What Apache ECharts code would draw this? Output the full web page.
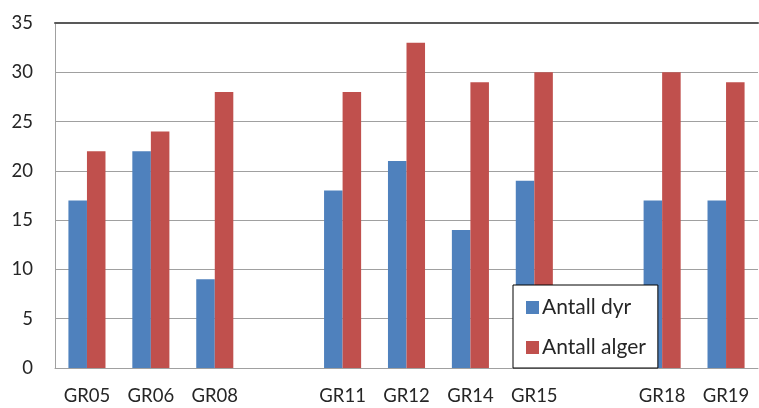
<!DOCTYPE html>
<html>
<head>
<meta charset="utf-8">
<script src="https://cdn.jsdelivr.net/npm/echarts@6/dist/echarts.min.js"></script>
<style>html,body{margin:0;padding:0;background:#fff}#c{width:759px;height:408px}</style>
</head>
<body>
<div id="c"></div>
<script>
var categories = ['GR05', 'GR06', 'GR08', '', 'GR11', 'GR12', 'GR14', 'GR15', '', 'GR18', 'GR19'];
var antallDyr = [17, 22, 9, '-', 18, 21, 14, 19, '-', 17, 17];
var antallAlger = [22, 24, 28, '-', 28, 33, 29, 30, '-', 30, 29];
var yTicks = { min: 0, max: 35, interval: 5 };

var font = 'Lato, "Open Sans", sans-serif';
var chart = echarts.init(document.getElementById('c'), null, { renderer: 'canvas' });
chart.setOption({
  animation: false,
  backgroundColor: '#ffffff',
  grid: { left: 55, right: 1, top: 23, bottom: 40, containLabel: false },
  xAxis: [{
    type: 'category',
    data: categories,
    position: 'bottom',
    axisLine: { show: true, lineStyle: { color: '#a0a0a0', width: 1 } },
    axisTick: { show: false },
    axisLabel: { color: '#262626', fontSize: 18.5, fontFamily: font, margin: 19, interval: 0 }
  }, {
    type: 'category',
    data: categories,
    position: 'top',
    axisLine: { show: true, lineStyle: { color: '#595959', width: 2 } },
    axisTick: { show: false },
    axisLabel: { show: false }
  }],
  yAxis: {
    type: 'value',
    min: yTicks.min, max: yTicks.max, interval: yTicks.interval,
    axisLine: { show: true, lineStyle: { color: '#a0a0a0', width: 1 } },
    axisTick: { show: false },
    splitLine: { lineStyle: { color: '#a0a0a0', width: 1 } },
    axisLabel: { color: '#262626', fontSize: 18.5, fontFamily: font, margin: 22 }
  },
  legend: {
    orient: 'vertical',
    left: 513, top: 285,
    width: 147, height: 83,
    padding: [12, 12, 10, 13],
    itemGap: 19,
    itemWidth: 13, itemHeight: 13,
    icon: 'rect',
    borderColor: '#000000', borderWidth: 1,
    backgroundColor: '#ffffff',
    textStyle: { color: '#262626', fontSize: 21, fontFamily: font, padding: [0, 0, 0, -2] },
    data: ['Antall dyr', 'Antall alger']
  },
  series: [{
    name: 'Antall dyr', type: 'bar', data: antallDyr,
    itemStyle: { color: '#4F81BD' },
    barGap: '0%', barCategoryGap: '42%'
  }, {
    name: 'Antall alger', type: 'bar', data: antallAlger,
    itemStyle: { color: '#C0504D' },
    barGap: '0%', barCategoryGap: '42%'
  }]
});
</script>
</body>
</html>
